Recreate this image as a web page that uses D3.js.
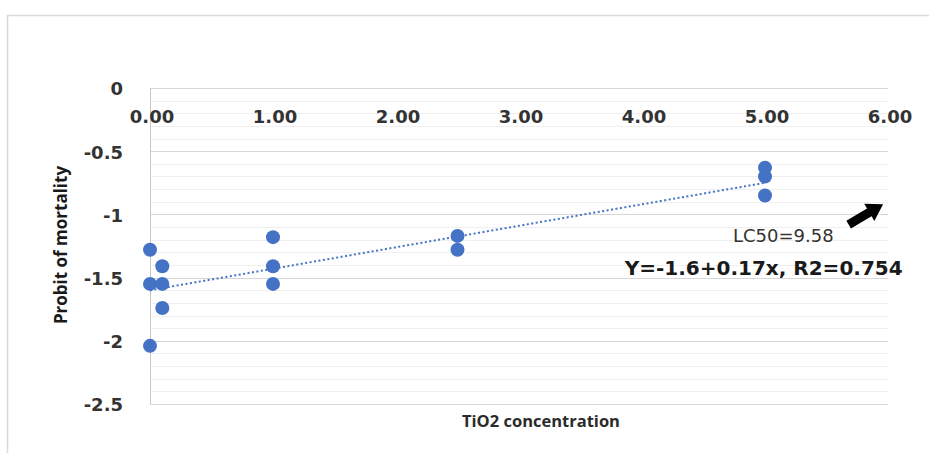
<!DOCTYPE html>
<html>
<head>
<meta charset="utf-8">
<script src="https://cdn.jsdelivr.net/npm/d3@7"></script>
<style>
  body { margin: 0; background: #fff; }
</style>
</head>
<body>
<div id="viz"></div>
<script>
// data
const concentration = [0, 0, 0, 0.1, 0.1, 0.1, 1, 1, 1, 2.5, 2.5, 5, 5, 5];
const probit = [-1.28, -1.55, -2.04, -1.41, -1.55, -1.74, -1.18, -1.41, -1.55, -1.17, -1.28, -0.63, -0.70, -0.85];
const xTicks = [0, 1, 2, 3, 4, 5, 6];
const yTicks = [0, -0.5, -1, -1.5, -2, -2.5];
const trendIntercept = -1.6;
const trendSlope = 0.17;
const trendRange = [0, 5];
const equationLabel = "Y=-1.6+0.17x,  R2=0.754";
const lc50Label = "LC50=9.58";

// dimensions of the page
const width = 929
const height = 453
const plot = {left: 150, right: 888, top: 88, bottom: 404}

var svg = d3.select("#viz")
    .append("svg")
    .attr("width", width)
    .attr("height", height);

// chart area border (runs off the right and bottom)
svg.append("rect")
    .attr("x", 7.5)
    .attr("y", 15.5)
    .attr("width", width + 20)
    .attr("height", height + 20)
    .attr("fill", "#fff")
    .attr("stroke", "#d9d9d9")
    .attr("stroke-width", 1.5);

const x = d3.scaleLinear().domain([0, 6]).range([plot.left, plot.right]);
const y = d3.scaleLinear().domain([-2.5, 0]).range([plot.bottom, plot.top]);

// minor gridlines every 0.1
const minor = d3.range(-25, 1).map(function(d) { return d / 10 });
svg.append("g")
    .selectAll("line")
    .data(minor)
    .enter()
    .append("line")
    .attr("x1", x(0))
    .attr("x2", x(6))
    .attr("y1", function(d) { return Math.round(y(d)) + 0.5 })
    .attr("y2", function(d) { return Math.round(y(d)) + 0.5 })
    .style("stroke", "#efefef");

// major gridlines
svg.append("g")
    .selectAll("line")
    .data(yTicks)
    .enter()
    .append("line")
    .attr("x1", x(0))
    .attr("x2", x(6))
    .attr("y1", function(d) { return Math.round(y(d)) + 0.5 })
    .attr("y2", function(d) { return Math.round(y(d)) + 0.5 })
    .style("stroke", "#d6d6d6");

// y axis line
svg.append("line")
    .attr("x1", x(0) + 0.5)
    .attr("x2", x(0) + 0.5)
    .attr("y1", y(0))
    .attr("y2", y(-2.5))
    .style("stroke", "#c8c8c8");

// x tick labels, below the axis at y = 0
svg.append("g")
    .selectAll("text")
    .data(xTicks)
    .enter()
    .append("text")
    .attr("x", function(d) { return x(d) + 2 })
    .attr("y", y(0) + 29)
    .attr("dy", "0.35em")
    .attr("text-anchor", "middle")
    .style("font", "bold 18px 'DejaVu Sans'")
    .style("fill", "#333")
    .text(function(d) { return d3.format(".2f")(d) });

// y tick labels
svg.append("g")
    .selectAll("text")
    .data(yTicks)
    .enter()
    .append("text")
    .attr("x", plot.left - 27)
    .attr("y", function(d) { return y(d) + 1 })
    .attr("dy", "0.35em")
    .attr("text-anchor", "end")
    .style("font", "bold 18px 'DejaVu Sans'")
    .style("fill", "#333")
    .text(function(d) { return d });

// axis titles
svg.append("text")
    .attr("x", 541)
    .attr("y", 421)
    .attr("dy", "0.35em")
    .attr("text-anchor", "middle")
    .style("font", "bold 16.5px 'Open Sans'")
    .style("fill", "#2a2a2a")
    .text("TiO2 concentration");

svg.append("text")
    .attr("transform", "translate(61,245)rotate(-90)")
    .attr("dy", "0.35em")
    .attr("text-anchor", "middle")
    .style("font", "bold 17px 'Open Sans'")
    .style("fill", "#1a1a1a")
    .text("Probit of mortality");

// linear trendline, dotted
svg.append("line")
    .attr("x1", x(trendRange[0]))
    .attr("x2", x(trendRange[1]))
    .attr("y1", y(trendIntercept + trendSlope * trendRange[0]))
    .attr("y2", y(trendIntercept + trendSlope * trendRange[1]))
    .style("stroke", "#4472c4")
    .style("stroke-width", 2)
    .style("stroke-dasharray", "2,2.5");

// points
svg.append("g")
    .selectAll("circle")
    .data(concentration)
    .enter()
    .append("circle")
    .attr("cx", function(d) { return x(d) })
    .attr("cy", function(d, i) { return y(probit[i]) })
    .attr("r", 7)
    .attr("fill", "#4472c4");

// annotations
svg.append("text")
    .attr("x", x(4.74))
    .attr("y", y(-1.17))
    .attr("dy", "0.35em")
    .style("font", "18px 'DejaVu Sans'")
    .style("fill", "#333")
    .text(lc50Label);

svg.append("text")
    .attr("x", x(3.86))
    .attr("y", y(-1.425))
    .attr("dy", "0.35em")
    .style("font", "bold 20px 'DejaVu Sans'")
    .style("fill", "#1a1a1a")
    .text(equationLabel);

// block arrow pointing up-right
const tail = [x(5.68), y(-1.08)];
const tip = [x(5.96), y(-0.92)];
const len = Math.hypot(tip[0] - tail[0], tip[1] - tail[1]);
const ang = Math.atan2(tip[1] - tail[1], tip[0] - tail[0]) * 180 / Math.PI;
const shaft = 4.5, head = 10, headLen = 16;
svg.append("path")
    .attr("transform", "translate(" + tail[0] + "," + tail[1] + ")rotate(" + ang + ")")
    .attr("d", "M0," + (-shaft) + "L" + (len - headLen) + "," + (-shaft) +
               "L" + (len - headLen) + "," + (-head) + "L" + len + ",0" +
               "L" + (len - headLen) + "," + head + "L" + (len - headLen) + "," + shaft +
               "L0," + shaft + "Z")
    .attr("fill", "#000");
</script>
</body>
</html>
